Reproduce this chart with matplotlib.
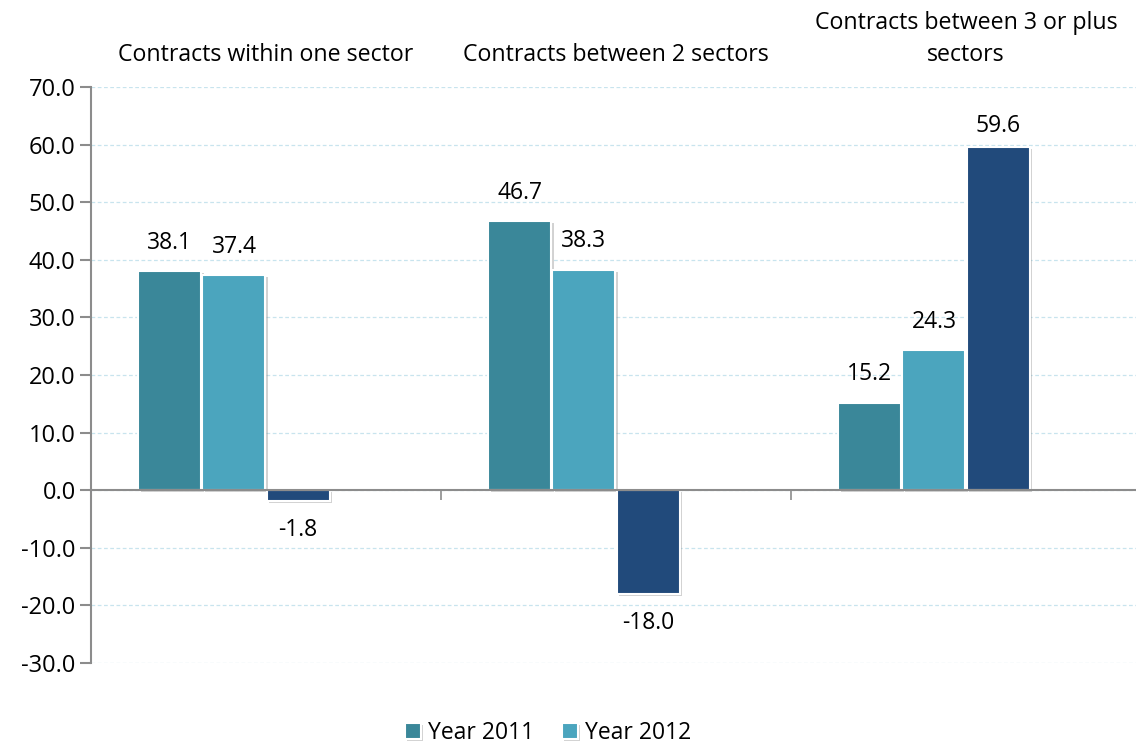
import matplotlib.pyplot as plt
import matplotlib.patheffects as pe
import numpy as np

categories = ['Contracts within one sector', 'Contracts between 2 sectors',
              'Contracts between 3 or plus\nsectors']
year2011 = [38.1, 46.7, 15.2]
year2012 = [37.4, 38.3, 24.3]
third = [-1.8, -18.0, 59.6]

colors = ['#3A8799', '#4BA5BE', '#214A7B']
font = 'Open Sans'

fig = plt.figure(figsize=(11.36, 7.45), dpi=100)
ax = fig.add_axes([91/1136, 1 - 663/745, 1050/1136, (663 - 87)/745])

x = np.arange(len(categories))
w = 0.18
step = 0.183
shadow = [pe.SimplePatchShadow(offset=(1.5, -1.5), shadow_rgbFace='gray', alpha=0.35), pe.Normal()]

series = [(year2011, 'Year 2011'), (year2012, 'Year 2012'), (third, '_nolegend_')]
for i, (vals, lab) in enumerate(series):
    pos = x + (i - 1.5) * step
    bars = ax.bar(pos, vals, w, color=colors[i], edgecolor='white', linewidth=1.5,
                  label=lab, zorder=3)
    for b in bars:
        b.set_path_effects(shadow)
    for p, v in zip(pos, vals):
        ty = min(v + 4.9, 63.2) if v >= 0 else v - 5.1
        ax.text(p, ty, '%.1f' % v, ha='center', va='center',
                fontsize=16.5, family=font, color='black')

ax.set_xlim(-0.5, 2.5)
ax.set_ylim(-30, 70)
ax.set_yticks(np.arange(-30, 71, 10))
ax.set_yticklabels(['%.1f' % t for t in np.arange(-30, 71, 10)], fontsize=17, family=font)
ax.yaxis.grid(True, color='#C8E4EE', linestyle=(0, (3, 2)), linewidth=0.9, zorder=0)
ax.set_axisbelow(True)

for s in ['top', 'right']:
    ax.spines[s].set_visible(False)
ax.spines['left'].set_color('#8C8C8C')
ax.spines['left'].set_linewidth(1.5)
ax.spines['bottom'].set_position(('data', 0))
ax.spines['bottom'].set_color('#8C8C8C')
ax.spines['bottom'].set_linewidth(1.5)
ax.spines['bottom'].set_zorder(4)
ax.tick_params(axis='y', length=8, width=1.5, color='#8C8C8C', pad=3)
ax.set_xticks([0.5, 1.5])
ax.set_xticklabels([])
ax.tick_params(axis='x', length=7, width=1.2, color='#8C8C8C', direction='out')

for xi, c in zip(x, categories):
    ax.text(xi, 1.035, c, transform=ax.get_xaxis_transform(), ha='center', va='bottom',
            fontsize=16.7, family=font, linespacing=1.45)

leg = fig.legend(loc='center', bbox_to_anchor=(548/1136, 1 - 733/745), ncol=2, frameon=False,
                 prop={'family': font, 'size': 16.5}, handlelength=0.7, handleheight=0.7,
                 handletextpad=0.3, columnspacing=1.2)

fig.savefig('out.png', dpi=100)
